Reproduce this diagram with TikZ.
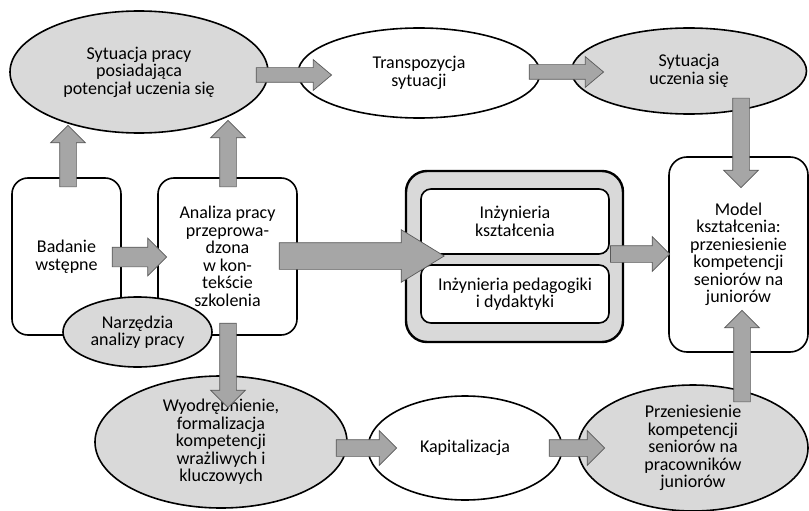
\documentclass[tikz,border=0pt]{standalone}
\usepackage{fontspec}
\setmainfont{Carlito}
\usetikzlibrary{shapes.geometric,shapes.arrows,calc}

% block arrow from #2 to #3, #1 = extra style
\newcommand\blockarrow[3][]{%
	\path let \p1=#2, \p2=#3, \n1={atan2(\y2-\y1,\x2-\x1)}, \n2={veclen(\x2-\x1,\y2-\y1)} in
	node[flowarrow, #1, minimum height=\n2, rotate=\n1, anchor=tail] at (\p1) {};}

\begin{document}
\begin{tikzpicture}[x=1pt, y=-1pt,
	font=\fontsize{18}{17.5}\selectfont,
	oval/.style={ellipse, draw, line width=1.6pt, inner sep=0pt, align=center},
	greyoval/.style={oval, fill=shade},
	whiteoval/.style={oval, fill=white},
	roundbox/.style={rectangle, draw, line width=1.6pt, rounded corners=16pt, fill=white, inner sep=0pt, align=center},
	flowarrow/.style={single arrow, draw=arrowline, fill=arrowfill, line width=0.7pt,
		inner xsep=0pt, inner ysep=8pt, single arrow head extend=9pt, single arrow tip angle=90},
	thinarrow/.style={inner ysep=7pt, single arrow head extend=8pt, single arrow tip angle=80},
	bigarrow/.style={inner ysep=13pt, single arrow head extend=13pt, single arrow tip angle=63},
	]
	% Colors
	\colorlet{shade}{black!15}
	\colorlet{arrowfill}{black!35}
	\colorlet{arrowline}{black!65}
	
	\useasboundingbox (0,0) rectangle (809,511);
	
	% Top row
	\node[greyoval, minimum width=258pt, minimum height=122pt] (work) at (139,72)
	{Sytuacja pracy\\posiadająca\\potencjał uczenia się};
	\node[whiteoval, minimum width=242pt, minimum height=90pt] (transp) at (419,73)
	{Transpozycja\\sytuacji};
	\node[greyoval, minimum width=235pt, minimum height=86pt] (learn) at (689,71)
	{Sytuacja\\uczenia się};
	
	% Middle row
	\node[roundbox, minimum width=109pt, minimum height=157pt] (survey) at (66.5,256.5)
	{Badanie\\wstępne};
	\node[roundbox, minimum width=139pt, minimum height=157pt] (analysis) at (227.5,256.5)
	{Analiza pracy\\przeprowa-\\dzona\\w kon-\\tekście\\szkolenia};
	\node[greyoval, minimum width=149pt, minimum height=70pt] (tools) at (137.5,332)
	{Narzędzia\\analizy pracy};
	
	\node[rectangle, draw, line width=2.4pt, rounded corners=21pt, fill=shade,
	minimum width=217pt, minimum height=171pt] (eng) at (514.5,256.5) {};
	\node[roundbox, rounded corners=10pt, minimum width=188pt, minimum height=65pt] (train) at (515,221.5)
	{Inżynieria\\kształcenia};
	\node[roundbox, rounded corners=10pt, minimum width=188pt, minimum height=58pt] (pedag) at (515,294)
	{Inżynieria pedagogiki\\i dydaktyki};
	
	\node[roundbox, rounded corners=18pt, minimum width=139pt, minimum height=195pt] (model) at (738.5,254.5)
	{Model\\kształcenia:\\przeniesienie\\kompetencji\\seniorów na\\juniorów};
	
	% Bottom row
	\node[greyoval, minimum width=252pt, minimum height=132pt] (extract) at (221,442)
	{Wyodrębnienie,\\formalizacja\\kompetencji\\wrażliwych i\\kluczowych};
	\node[whiteoval, minimum width=194pt, minimum height=104pt] (capital) at (465,448)
	{Kapitalizacja};
	\node[greyoval, minimum width=230pt, minimum height=126pt] (transfer) at (693,448)
	{Przeniesienie\\kompetencji\\seniorów na\\pracowników\\juniorów};
	
	% Arrows
	\blockarrow[thinarrow]{($(work.east)+(-13,3)$)}{($(transp.west)+(34,2)$)}
	\blockarrow[thinarrow]{($(transp.east)+(-12,-1)$)}{($(learn.west)+(32.5,1)$)}
	\blockarrow{($(learn.south)+(52,-17)$)}{($(model.north)+(2.5,31)$)}
	\blockarrow{($(survey.north)+(1.5,10)$)}{($(work.south)+(-71,-8)$)}
	\blockarrow{($(analysis.north)+(0.5,10)$)}{($(work.south)+(89,-13)$)}
	\blockarrow[inner ysep=9.5pt]{($(survey.east)+(-10,0.5)$)}{($(analysis.west)+(9,0.5)$)}
	\blockarrow[bigarrow]{($(analysis.east)+(-19,-0.5)$)}{($(eng.west)+(39,-0.5)$)}
	\blockarrow{($(analysis.south)+(0.5,-13)$)}{($(extract.north)+(7,32)$)}
	\blockarrow{($(eng.east)+(-14,-2.5)$)}{($(model.west)+(1,-0.5)$)}
	\blockarrow{($(extract.east)+(-12,6)$)}{($(capital.west)+(29,0)$)}
	\blockarrow{($(capital.east)+(-14,0)$)}{($(transfer.west)+(27,0)$)}
	\blockarrow{($(transfer.north)+(49,18)$)}{($(model.south)+(3.5,-42)$)}
\end{tikzpicture}
\end{document}
